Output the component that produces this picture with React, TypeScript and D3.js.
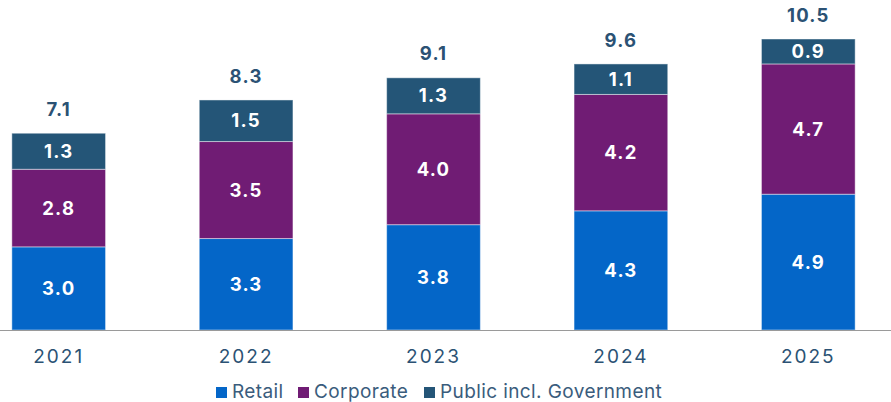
import React from "react";
import * as d3 from "d3";

const years = ["2021", "2022", "2023", "2024", "2025"];
const retail = [3.0, 3.3, 3.8, 4.3, 4.9];
const corporate = [2.8, 3.5, 4.0, 4.2, 4.7];
const publicGov = [1.3, 1.5, 1.3, 1.1, 0.9];
const seriesNames = ["Retail", "Corporate", "Public incl. Government"];
const seriesColors = ["#0466C8", "#701C74", "#245577"];

const W = 891;
const H = 402;
const textColor = "#2B5274";
const font = "Inter, 'Noto Sans', sans-serif";

export default function App() {
  const rows = years.map((y, i) => ({
    year: y,
    Retail: retail[i],
    Corporate: corporate[i],
    "Public incl. Government": publicGov[i],
  }));
  const stack = d3.stack<any>().keys(seriesNames)(rows);

  const x = d3.scaleBand().domain(years).range([-35, 902]).paddingInner(0.5).paddingOuter(0.25);
  const y = d3.scaleLinear().domain([0, 10.5]).range([330, 39]);

  const legendX = [216, 298, 424];

  return (
    <svg width={W} height={H} style={{ position: "absolute", left: 0, top: 0 }} fontFamily={font}>
      {stack.map((s, si) => (
        <g key={s.key}>
          {s.map((d, i) => {
            const x0 = x(years[i])!;
            const y0 = y(d[1]);
            const h = y(d[0]) - y(d[1]);
            const v = d[1] - d[0];
            return (
              <g key={i}>
                <rect
                  x={x0}
                  y={y0}
                  width={x.bandwidth()}
                  height={h}
                  fill={seriesColors[si]}
                  stroke="#ffffff"
                  strokeOpacity={0.45}
                  strokeWidth={1}
                />
                <text
                  x={x0 + x.bandwidth() / 2}
                  y={y0 + h / 2}
                  dy="0.36em"
                  textAnchor="middle"
                  fill="#ffffff"
                  fontSize={18.5}
                  fontWeight={700}
                  letterSpacing={1.2}
                >
                  {v.toFixed(1)}
                </text>
              </g>
            );
          })}
        </g>
      ))}
      {rows.map((r, i) => {
        const total = retail[i] + corporate[i] + publicGov[i];
        return (
          <text
            key={r.year}
            x={x(r.year)! + x.bandwidth() / 2}
            y={y(total) - 24}
            dy="0.36em"
            textAnchor="middle"
            fill={textColor}
            fontSize={18.5}
            fontWeight={700}
            letterSpacing={1.2}
          >
            {total.toFixed(1)}
          </text>
        );
      })}
      <line x1={0} x2={W} y1={330.5} y2={330.5} stroke="#9a9a9a" strokeWidth={1.2} />
      {years.map((yr) => (
        <text
          key={yr}
          x={x(yr)! + x.bandwidth() / 2}
          y={363}
          textAnchor="middle"
          fill={textColor}
          fontSize={19}
          letterSpacing={2}
        >
          {yr}
        </text>
      ))}
      {seriesNames.map((n, i) => (
        <g key={n}>
          <rect x={legendX[i]} y={387} width={11} height={11} fill={seriesColors[i]} />
          <text x={legendX[i] + 16} y={398} fill="#3A5C7C" fontSize={19} letterSpacing={0.4}>
            {n}
          </text>
        </g>
      ))}
    </svg>
  );
}
